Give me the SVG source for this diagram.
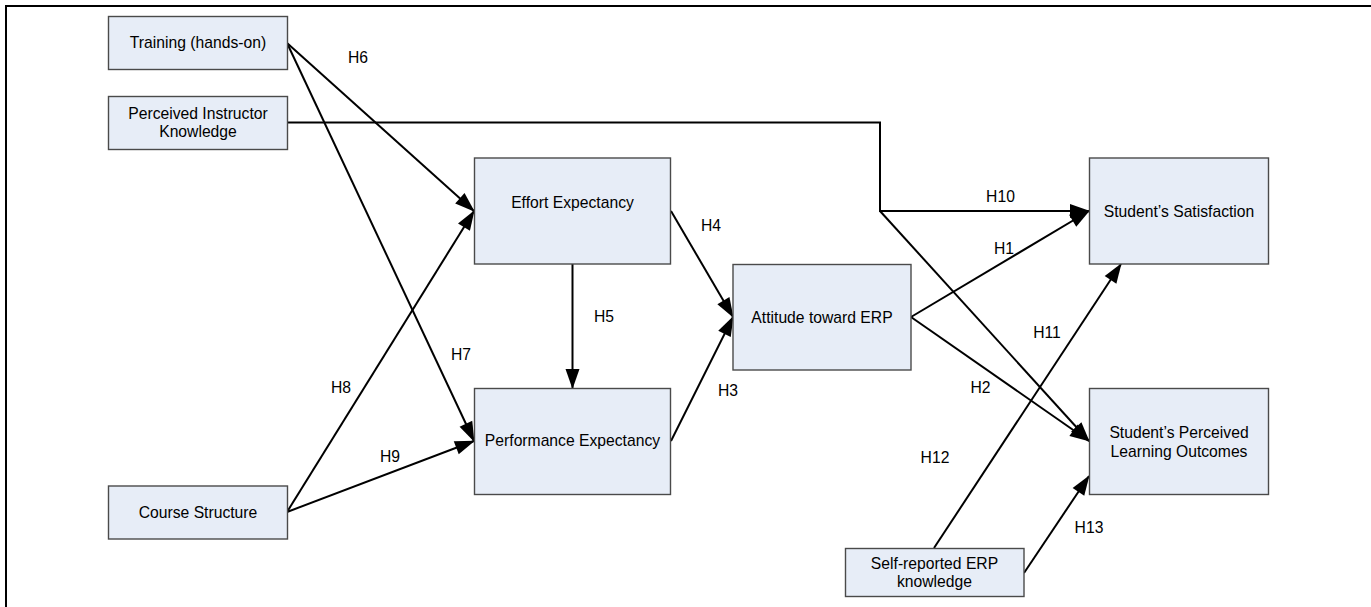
<svg xmlns="http://www.w3.org/2000/svg" width="1371" height="607" viewBox="0 0 1371 607">
<style>
.box{fill:#E7EDF7;stroke:#4a4a4a;stroke-width:1.4}
.t{font-family:"Liberation Sans",Arial,sans-serif;font-size:15.7px;fill:#000;text-anchor:middle}
.c{fill:none;stroke:#000;stroke-width:2}
.a{marker-end:url(#arr)}
</style>
<defs>
<marker id="arr" markerUnits="userSpaceOnUse" markerWidth="20" markerHeight="14" refX="19" refY="7" orient="auto" overflow="visible">
<path d="M0,0 L20,7 L0,14 Z" fill="#000"/>
</marker>
</defs>
<rect width="1371" height="607" fill="#fff"/>
<path d="M6,607 V6 H1371" fill="none" stroke="#000" stroke-width="2"/>

<g id="connectors">
<line class="c a" x1="287" y1="43" x2="474" y2="211"/>
<line class="c a" x1="287" y1="43" x2="474" y2="441"/>
<line class="c a" x1="287" y1="512" x2="474" y2="211"/>
<line class="c a" x1="287" y1="512" x2="474" y2="441"/>
<line class="c a" x1="572.5" y1="264" x2="572.5" y2="388"/>
<line class="c a" x1="671" y1="211" x2="733" y2="317"/>
<line class="c a" x1="671" y1="441" x2="733" y2="317"/>
<path class="c a" d="M287,122.5 H880 V211 H1089"/>
<line class="c a" x1="880" y1="211" x2="1089" y2="441"/>
<line class="c a" x1="911" y1="317" x2="1089" y2="211"/>
<line class="c a" x1="911" y1="317" x2="1089" y2="441"/>
<line class="c a" x1="934" y1="548" x2="1121" y2="264"/>
<line class="c a" x1="1024" y1="573" x2="1089" y2="476"/>
</g>

<g id="labels">
<text class="t" x="358" y="63">H6</text>
<text class="t" x="711" y="231">H4</text>
<text class="t" x="604" y="322">H5</text>
<text class="t" x="461" y="360">H7</text>
<text class="t" x="728" y="395.5">H3</text>
<text class="t" x="341" y="393">H8</text>
<text class="t" x="390" y="461.5">H9</text>
<text class="t" x="1000.5" y="201.5">H10</text>
<text class="t" x="1004" y="254">H1</text>
<text class="t" x="1047" y="338">H11</text>
<text class="t" x="980.5" y="393">H2</text>
<text class="t" x="935" y="462.5">H12</text>
<text class="t" x="1089" y="533">H13</text>
</g>

<g id="training">
<rect class="box" x="108.5" y="16.5" width="179" height="53"/>
<text class="t" x="198" y="48">Training (hands-on)</text>
</g>
<g id="instructor">
<rect class="box" x="108.5" y="96.5" width="179" height="53"/>
<text class="t" x="198" y="119">Perceived Instructor</text>
<text class="t" x="198" y="137">Knowledge</text>
</g>
<g id="course">
<rect class="box" x="108.5" y="486" width="179" height="53"/>
<text class="t" x="198" y="517.5">Course Structure</text>
</g>
<g id="effort">
<rect class="box" x="474.5" y="158" width="196" height="106"/>
<text class="t" x="572.5" y="207.5">Effort Expectancy</text>
</g>
<g id="performance">
<rect class="box" x="474.5" y="388.5" width="196" height="106"/>
<text class="t" x="572.5" y="446">Performance Expectancy</text>
</g>
<g id="attitude">
<rect class="box" x="733" y="264.5" width="178" height="105.5"/>
<text class="t" x="822" y="322.5">Attitude toward ERP</text>
</g>
<g id="satisfaction">
<rect class="box" x="1089.5" y="158" width="179" height="106"/>
<text class="t" x="1179" y="216.5">Student’s Satisfaction</text>
</g>
<g id="outcomes">
<rect class="box" x="1089.5" y="388.5" width="179" height="106"/>
<text class="t" x="1179" y="437.5">Student’s Perceived</text>
<text class="t" x="1179" y="456.5">Learning Outcomes</text>
</g>
<g id="selfreported">
<rect class="box" x="845.5" y="548.5" width="178.5" height="48"/>
<text class="t" x="934.5" y="569">Self-reported ERP</text>
<text class="t" x="934.5" y="587">knowledge</text>
</g>
</svg>
